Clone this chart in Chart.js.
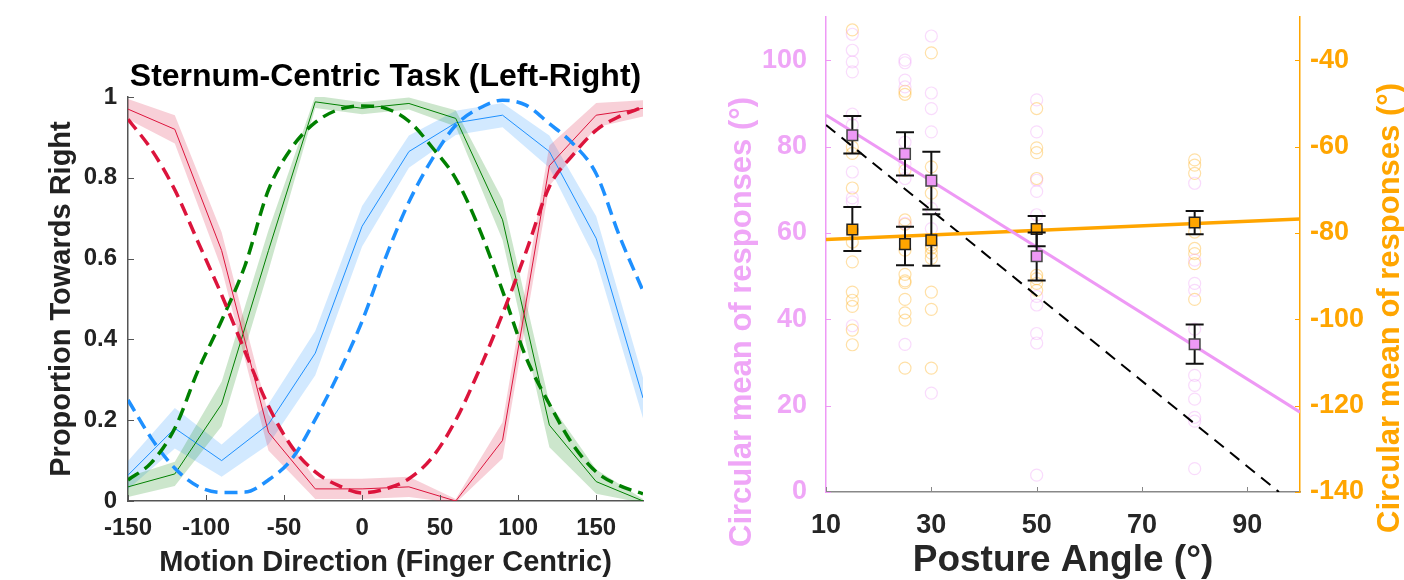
<!DOCTYPE html>
<html>
<head>
<meta charset="utf-8">
<script src="https://cdn.jsdelivr.net/npm/chart.js@4.4.1/dist/chart.umd.min.js"></script>
<style>
  html, body { margin: 0; padding: 0; background: #fff; }
  #wrap { position: relative; width: 1404px; height: 580px; overflow: hidden; }
  #left { position: absolute; left: 0; top: 0; }
  #right { position: absolute; left: 700px; top: 0; }
</style>
</head>
<body>
<div id="wrap">
  <canvas id="left" width="700" height="580" style="width:700px;height:580px"></canvas>
  <canvas id="right" width="704" height="580" style="width:704px;height:580px"></canvas>
</div>
<script>
// ---- left panel: proportion of "right" responses vs motion direction ----
const dirObs = [-150, -120, -90, -60, -30, 0, 30, 60, 90, 120, 150, 180];
const redObs   = [0.97, 0.92, 0.62, 0.17, 0.03, 0.03, 0.035, 0.0, 0.15, 0.83, 0.955, 0.972];
const redErr   = [0.025, 0.035, 0.045, 0.045, 0.025, 0.025, 0.025, 0.005, 0.045, 0.05, 0.03, 0.02];
const greenObs = [0.035, 0.067, 0.24, 0.62, 0.988, 0.972, 0.984, 0.947, 0.696, 0.188, 0.048, 0.0];
const greenErr = [0.025, 0.03, 0.055, 0.05, 0.015, 0.015, 0.015, 0.02, 0.05, 0.055, 0.03, 0.005];
const blueObs  = [0.064, 0.18, 0.10, 0.19, 0.366, 0.68, 0.865, 0.936, 0.955, 0.865, 0.65, 0.255];
const blueErr  = [0.035, 0.05, 0.04, 0.05, 0.055, 0.05, 0.04, 0.03, 0.03, 0.04, 0.055, 0.05];

// model predictions (dashed)
const dirModel   = [-150, -135, -120, -105, -90, -75, -60, -45, -30, -15, 0, 15, 30, 45, 60, 75, 90, 105, 120, 135, 150, 165, 180];
const redModel   = [0.945, 0.87, 0.77, 0.64, 0.51, 0.37, 0.235, 0.134, 0.072, 0.038, 0.02, 0.03, 0.055, 0.108, 0.2, 0.324, 0.463, 0.616, 0.778, 0.856, 0.918, 0.952, 0.975];
const greenModel = [0.052, 0.095, 0.18, 0.324, 0.447, 0.583, 0.77, 0.875, 0.937, 0.969, 0.978, 0.972, 0.94, 0.875, 0.798, 0.675, 0.52, 0.356, 0.24, 0.14, 0.072, 0.038, 0.018];
const blueModel  = [0.25, 0.155, 0.081, 0.036, 0.021, 0.022, 0.052, 0.104, 0.202, 0.316, 0.445, 0.602, 0.74, 0.847, 0.93, 0.972, 0.992, 0.98, 0.934, 0.885, 0.81, 0.655, 0.52];

const dirTicks  = [-150, -100, -50, 0, 50, 100, 150];
const propTicks = [0, 0.2, 0.4, 0.6, 0.8, 1];

// ---- right panel: circular mean of responses vs posture angle ----
const angles = [15, 25, 30, 50, 80];
const pinkMean = [82.6, 78.3, 72.1, 54.6, 34.2];
const pinkLow  = [78.4, 73.3, 65.4, 49.0, 29.7];
const pinkHigh = [87.1, 83.3, 78.8, 60.1, 38.8];
const orangeMean = [-79.2, -82.6, -81.7, -79.1, -77.6];
const orangeLow  = [-84.2, -87.5, -87.6, -83.1, -80.3];
const orangeHigh = [-74.0, -78.6, -75.7, -76.1, -74.9];

const pinkResp15 = [106, 102.3, 99.6, 97.3, 87.5, 85, 74.1, 68.1, 67.2, 38.5];
const pinkResp25 = [100, 99.4, 95.4, 93.8, 81, 76, 72.6, 62.2, 34.2];
const pinkResp30 = [105.6, 92.4, 88.8, 83.4, 65.7, 61, 22.9];
const pinkResp50 = [90.8, 83.4, 72.2, 69.6, 64.2, 45.3, 43.3, 36.7, 34.5, 3.9];
const pinkResp80 = [71.5, 53.7, 48.3, 46.7, 37.7, 27, 24.7, 21.5, 17.3, 16.4, 5.4];
const orangeResp15 = [-33, -60.1, -61.6, -69.6, -79.4, -82.1, -86.7, -93.7, -95.6, -97, -102.5, -105.9];
const orangeResp25 = [-47.2, -47.9, -65.5, -77, -78, -84, -89.6, -91.1, -91.5, -95.4, -98.5, -100.2, -111.3];
const orangeResp30 = [-38.3, -64.7, -70.8, -82.8, -83.5, -84.7, -85.9, -93.7, -97.7, -111.3];
const orangeResp50 = [-51.2, -60.3, -61.4, -67.4, -89.8, -90.6, -91.7, -93.3];
const orangeResp80 = [-63.1, -64.3, -66.2, -79.8, -83.6, -84.8, -87.1, -95.4];

const fitX = [10, 100];
const pinkFit = [87.3, 18.5];
const orangeFit = [-81.5, -76.8];
const refX = [10, 96];
const refY = [85, 0];

const angleTicks  = [10, 30, 50, 70, 90];
const pinkTicks   = [0, 20, 40, 60, 80, 100];
const orangeTicks = [-140, -120, -100, -80, -60, -40];

const PINK = '#EE99F5';
const PINK_TXT = '#EFA6F7';
const ORANGE = '#FFA500';
const FONT = "'Liberation Sans', Arial, Helvetica, sans-serif";

Chart.defaults.font.family = FONT;
Chart.defaults.animation = false;

const pts = (xs, ys) => xs.map((x, i) => ({ x: x, y: ys[i] }));
const groupPts = (xs, groups) => groups.flatMap((g, i) => g.map(v => ({ x: xs[i], y: v })));
const setTicks = list => scale => { scale.ticks = list.map(v => ({ value: v })); };
// fixed axis thickness, no extra room reserved for overhanging labels
const fixSize = (w, h) => s => {
  if (w) s.width = w;
  if (h) s.height = h;
  s.paddingTop = 0; s.paddingBottom = 0;
};

// small inward tick marks, MATLAB style
const innerTicks = {
  id: 'innerTicks',
  afterDraw(chart, args, opts) {
    const { ctx, chartArea: a } = chart;
    ctx.save();
    ctx.lineWidth = 1;
    Object.entries(opts.colors || {}).forEach(([id, color]) => {
      const s = chart.scales[id];
      ctx.strokeStyle = color;
      ctx.beginPath();
      s.ticks.forEach(t => {
        const p = Math.round(s.getPixelForValue(t.value)) + 0.5;
        if (s.isHorizontal()) { ctx.moveTo(p, a.bottom); ctx.lineTo(p, a.bottom - opts.len); }
        else if (s.position === 'left') { ctx.moveTo(a.left, p); ctx.lineTo(a.left + opts.len, p); }
        else { ctx.moveTo(a.right, p); ctx.lineTo(a.right - opts.len, p); }
      });
      ctx.stroke();
    });
    ctx.restore();
  }
};

// vertical error bars drawn just before the mean markers
const errorBars = {
  id: 'errorBars',
  beforeDatasetDraw(chart, args) {
    const ds = chart.data.datasets[args.index];
    if (!ds.errLow) return;
    const xs = chart.scales[args.meta.xAxisID];
    const ys = chart.scales[args.meta.yAxisID];
    const ctx = chart.ctx;
    ctx.save();
    ctx.strokeStyle = '#111';
    ctx.lineWidth = 2;
    ds.data.forEach((d, i) => {
      const x = xs.getPixelForValue(d.x);
      const lo = ys.getPixelForValue(ds.errLow[i]);
      const hi = ys.getPixelForValue(ds.errHigh[i]);
      ctx.beginPath();
      ctx.moveTo(x, lo); ctx.lineTo(x, hi);
      ctx.moveTo(x - 9, lo); ctx.lineTo(x + 9, lo);
      ctx.moveTo(x - 9, hi); ctx.lineTo(x + 9, hi);
      ctx.stroke();
    });
    ctx.restore();
  }
};

// rotated axis titles (both read bottom-to-top as in the original)
const sideTitles = {
  id: 'sideTitles',
  afterDraw(chart, args, opts) {
    const ctx = chart.ctx;
    (opts.items || []).forEach(it => {
      ctx.save();
      ctx.translate(it.x, it.y);
      ctx.rotate(-Math.PI / 2);
      ctx.font = opts.font;
      ctx.fillStyle = it.color;
      ctx.textAlign = 'center';
      ctx.textBaseline = 'middle';
      ctx.fillText(it.text, 0, 0);
      ctx.restore();
    });
  }
};

function bandSets(obs, err, color) {
  return [
    { data: pts(dirObs, obs.map((v, i) => v - err[i])), borderWidth: 0, pointRadius: 0, fill: false, order: 3 },
    { data: pts(dirObs, obs.map((v, i) => v + err[i])), borderWidth: 0, pointRadius: 0, fill: '-1', backgroundColor: color, order: 2 }
  ];
}

new Chart(document.getElementById('left'), {
  type: 'line',
  data: {
    datasets: [
      ...bandSets(redObs, redErr, 'rgba(220,20,60,0.2)'),
      ...bandSets(greenObs, greenErr, 'rgba(0,128,0,0.2)'),
      ...bandSets(blueObs, blueErr, 'rgba(30,144,255,0.2)'),
      { data: pts(dirObs, redObs), borderColor: '#DC143C', borderWidth: 1, pointRadius: 0, order: 1 },
      { data: pts(dirObs, greenObs), borderColor: '#008000', borderWidth: 1, pointRadius: 0, order: 1 },
      { data: pts(dirObs, blueObs), borderColor: '#1E90FF', borderWidth: 1, pointRadius: 0, order: 1 },
      { data: pts(dirModel, redModel), borderColor: '#DC143C', borderWidth: 3.5, borderDash: [13, 7], pointRadius: 0, cubicInterpolationMode: 'monotone', order: 0 },
      { data: pts(dirModel, greenModel), borderColor: '#008000', borderWidth: 3.5, borderDash: [13, 7], pointRadius: 0, cubicInterpolationMode: 'monotone', order: 0 },
      { data: pts(dirModel, blueModel), borderColor: '#1E90FF', borderWidth: 3.5, borderDash: [13, 7], pointRadius: 0, cubicInterpolationMode: 'monotone', order: 0 }
    ]
  },
  options: {
    responsive: false,
    layout: { padding: { left: 0, right: 57, top: 0, bottom: 0 } },
    plugins: {
      legend: { display: false },
      tooltip: { enabled: false },
      title: {
        display: true, fullSize: false,
        text: 'Sternum-Centric Task (Left-Right)',
        color: '#000', font: { size: 32, weight: 'bold', lineHeight: 1 },
        padding: { top: 61, bottom: 4 }
      },
      innerTicks: { len: 6, colors: { x: '#555', y: '#555' } }
    },
    scales: {
      x: {
        type: 'linear', min: -150, max: 180,
        afterBuildTicks: setTicks(dirTicks),
        afterFit: fixSize(0, 79),
        grid: { display: false, drawTicks: false },
        border: { display: true, color: '#555', width: 1.5 },
        ticks: { color: '#222', padding: 13, font: { size: 24, weight: 'bold' } },
        title: { display: true, text: 'Motion Direction (Finger Centric)', color: '#222', font: { size: 29, weight: 'bold', lineHeight: 1 }, padding: { top: 0, bottom: 3 } }
      },
      y: {
        min: 0, max: 1,
        afterBuildTicks: setTicks(propTicks),
        afterFit: fixSize(128, 0),
        grid: { display: false, drawTicks: false },
        border: { display: true, color: '#555', width: 1.5 },
        ticks: { color: '#222', padding: 11, font: { size: 24, weight: 'bold' }, callback: v => String(v) },
        title: { display: true, text: 'Proportion Towards Right', color: '#222', font: { size: 29, weight: 'bold', lineHeight: 1 }, padding: { top: 47, bottom: 0 } }
      }
    }
  },
  plugins: [innerTicks]
});

new Chart(document.getElementById('right'), {
  type: 'scatter',
  data: {
    datasets: [
      { data: pts(angles, pinkMean), errLow: pinkLow, errHigh: pinkHigh, yAxisID: 'y', pointStyle: 'rect', pointRadius: 7.5, backgroundColor: PINK, borderColor: '#444', borderWidth: 1.5, order: 0 },
      { data: pts(angles, orangeMean), errLow: orangeLow, errHigh: orangeHigh, yAxisID: 'y2', pointStyle: 'rect', pointRadius: 7.5, backgroundColor: ORANGE, borderColor: '#222', borderWidth: 1.5, order: 0 },
      { type: 'line', data: pts(fitX, pinkFit), yAxisID: 'y', borderColor: PINK, borderWidth: 3, pointRadius: 0, order: 1 },
      { type: 'line', data: pts(fitX, orangeFit), yAxisID: 'y2', borderColor: ORANGE, borderWidth: 3.5, pointRadius: 0, order: 1 },
      { type: 'line', data: pts(refX, refY), yAxisID: 'y', borderColor: '#000', borderWidth: 2, borderDash: [12, 8], pointRadius: 0, order: 1 },
      { data: groupPts(angles, [pinkResp15, pinkResp25, pinkResp30, pinkResp50, pinkResp80]), yAxisID: 'y', pointRadius: 6, borderWidth: 1.2, borderColor: 'rgba(238,153,245,0.35)', backgroundColor: 'rgba(0,0,0,0)', order: 2 },
      { data: groupPts(angles, [orangeResp15, orangeResp25, orangeResp30, orangeResp50, orangeResp80]), yAxisID: 'y2', pointRadius: 6, borderWidth: 1.2, borderColor: 'rgba(255,165,0,0.35)', backgroundColor: 'rgba(0,0,0,0)', order: 2 }
    ]
  },
  options: {
    responsive: false,
    layout: { padding: { left: 0, right: 0, top: 17, bottom: 0 } },
    plugins: {
      legend: { display: false },
      tooltip: { enabled: false },
      innerTicks: { len: 5, colors: { x: '#888', y: PINK, y2: ORANGE } },
      sideTitles: {
        font: "bold 31px " + FONT,
        items: [
          { text: 'Circular mean of responses (°)', x: 42, y: 322, color: PINK_TXT },
          { text: 'Circular mean of responses (°)', x: 690, y: 308, color: ORANGE }
        ]
      }
    },
    scales: {
      x: {
        type: 'linear', min: 10, max: 100,
        afterBuildTicks: setTicks(angleTicks),
        afterFit: fixSize(0, 88),
        grid: { display: false, drawTicks: false },
        border: { display: true, color: '#888', width: 1.5 },
        ticks: { color: '#262626', padding: 17, font: { size: 27, weight: 'bold' } },
        title: { display: true, text: 'Posture Angle (°)', color: '#262626', font: { size: 37, weight: 'bold', lineHeight: 1 }, padding: { top: 0, bottom: 1 } }
      },
      y: {
        position: 'left', min: 0, max: 110,
        afterBuildTicks: setTicks(pinkTicks),
        afterFit: fixSize(126, 0),
        grid: { display: false, drawTicks: false },
        border: { display: true, color: PINK, width: 1.5 },
        ticks: { color: PINK_TXT, padding: 19, font: { size: 27, weight: 'bold' } }
      },
      y2: {
        position: 'right', min: -140, max: -30,
        afterBuildTicks: setTicks(orangeTicks),
        afterFit: fixSize(104, 0),
        grid: { display: false, drawTicks: false },
        border: { display: true, color: ORANGE, width: 1.5 },
        ticks: { color: ORANGE, padding: 10, font: { size: 27, weight: 'bold' } }
      }
    }
  },
  plugins: [innerTicks, errorBars, sideTitles]
});
</script>
</body>
</html>
